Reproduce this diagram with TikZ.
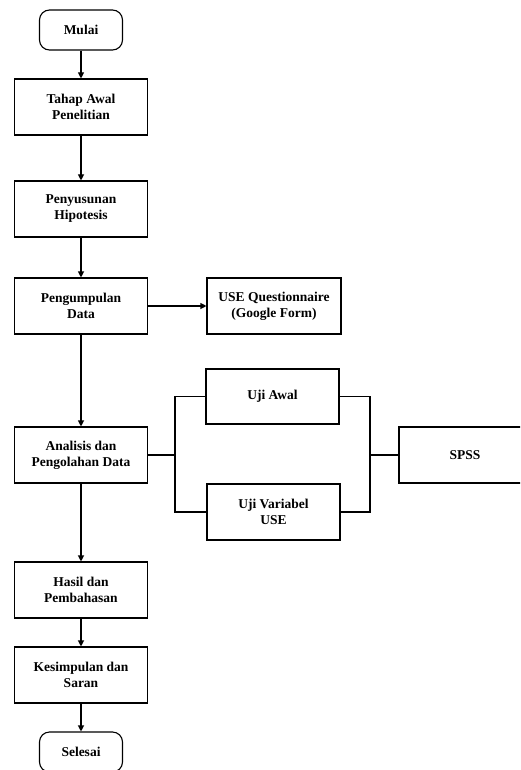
\documentclass[tikz,border=0pt]{standalone}
\usepackage{fontspec}
\setmainfont{Liberation Serif}
\usetikzlibrary{arrows.meta}
\tikzset{
  base/.style={draw, line width=1.1pt, align=center, font=\bfseries\fontsize{13.5}{16}\selectfont, inner sep=2pt},
  proc/.style={base, minimum width=133pt, minimum height=56pt},
  term/.style={base, rounded corners=10pt, minimum width=83pt, minimum height=40pt},
  conn/.style={line width=1.1pt},
  arr/.style={conn, -{Triangle[length=6pt,width=6pt]}}
}
\begin{document}
\begin{tikzpicture}[x=1pt,y=-1pt]
\useasboundingbox (0,0) rectangle (520,770);
\clip (0,0) rectangle (520,770);
\node[term] (mulai) at (81,30) {Mulai};
\node[proc] (tahap) at (81,107) {Tahap Awal\\Penelitian};
\node[proc] (susun) at (81,209) {Penyusunan\\Hipotesis};
\node[proc] (kumpul) at (81,306) {Pengumpulan\\Data};
\node[proc, minimum width=134pt] (use) at (274,306) {USE Questionnaire\\(Google Form)};
\node[proc, minimum height=55pt] (ujiawal) at (272.5,396.5) {Uji Awal};
\node[proc] (analisis) at (81,455) {Analisis dan\\Pengolahan Data};
\node[proc] (ujivar) at (273.5,512) {Uji Variabel\\USE};
\node[proc, minimum width=132pt] (spss) at (465,455) {SPSS};
\node[proc] (hasil) at (81,590) {Hasil dan\\Pembahasan};
\node[proc] (kesim) at (81,675) {Kesimpulan dan\\Saran};
\node[term] (selesai) at (81,752) {Selesai};
\coordinate (jl) at (175,455);
\coordinate (jr) at (370,455);
\draw[arr] (mulai) -- (tahap);
\draw[arr] (tahap) -- (susun);
\draw[arr] (susun) -- (kumpul);
\draw[arr] (kumpul) -- (use);
\draw[arr] (kumpul) -- (analisis);
\draw[arr] (analisis) -- (hasil);
\draw[arr] (hasil) -- (kesim);
\draw[arr] (kesim) -- (selesai);
\draw[conn] (analisis.east) -- (jl);
\draw[conn] (ujiawal.west) -| (jl) |- (ujivar.west);
\draw[conn] (ujiawal.east) -| (jr) |- (ujivar.east);
\draw[conn] (jr) -- (spss.west);
\end{tikzpicture}
\end{document}
